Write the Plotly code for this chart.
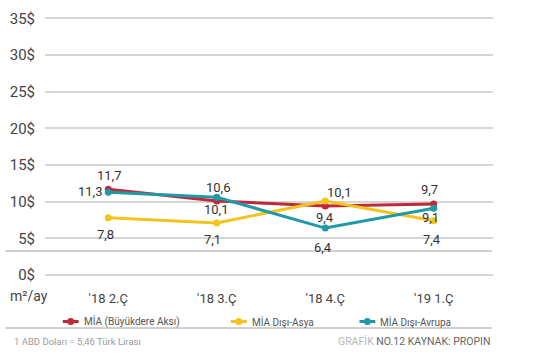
import plotly.graph_objects as go

categories = ["'18 2.Ç", "'18 3.Ç", "'18 4.Ç", "'19 1.Ç"]
buyukdere = [11.7, 10.1, 9.4, 9.7]
asya = [7.8, 7.1, 10.1, 7.4]
avrupa = [11.3, 10.6, 6.4, 9.1]
y_ticks = [0, 5, 10, 15, 20, 25, 30, 35]

# label offsets in pixels (dx right, dy down) relative to each point
series = [
    ("MİA (Büyükdere Aksı)", buyukdere, "#c0283a",
     [(1, -14), (-1, 9), (0, 11), (-4, -14)], 66),
    ("MİA Dışı-Asya", asya, "#f2c41c",
     [(-3, 17), (-4, 17), (14, -8), (-2, 19)], 236),
    ("MİA Dışı-Avrupa", avrupa, "#1f9aa6",
     [(-18, -1), (1, -10), (-2, 19), (-3, 9)], 366),
]

FONT = "Roboto, Arial, sans-serif"
xs = list(range(len(categories)))

W, H = 555, 355
L, R, T, B = 40, 493, 10, 280
pw, ph = R - L, B - T
def px(x):
    return (x - L) / pw
def py(y):
    return (B - y) / ph

fig = go.Figure()
shapes = [
    dict(type="line", xref="paper", yref="paper", x0=px(0), x1=px(492),
         y0=py(251), y1=py(251), line=dict(color="#d0d0d0", width=2)),
    dict(type="line", xref="paper", yref="paper", x0=px(0), x1=px(492),
         y0=py(328), y1=py(328), line=dict(color="#d0d0d0", width=2)),
]
annotations = []
LEG_Y = 321.5
for name, vals, col, offs, lx in series:
    fig.add_trace(go.Scatter(
        x=xs, y=vals, name=name, mode="lines+markers",
        line=dict(color=col, width=3),
        marker=dict(color=col, size=7),
        showlegend=False, cliponaxis=False,
    ))
    for xi, v, (dx, dy) in zip(xs, vals, offs):
        annotations.append(dict(text=f"{v:.1f}".replace(".", ","),
                                xref="x", yref="y", x=xi, y=v,
                                xshift=dx, yshift=-dy, showarrow=False,
                                xanchor="center", yanchor="middle",
                                font=dict(family=FONT, size=13, color="#333")))
    shapes.append(dict(type="line", xref="paper", yref="paper",
                       x0=px(lx - 8), x1=px(lx + 8), y0=py(LEG_Y), y1=py(LEG_Y),
                       line=dict(color=col, width=3)))
    shapes.append(dict(type="circle", xref="paper", yref="paper",
                       xsizemode="pixel", ysizemode="pixel",
                       xanchor=px(lx), yanchor=py(LEG_Y),
                       x0=-3.5, x1=3.5, y0=-3.5, y1=3.5,
                       fillcolor=col, line=dict(width=0)))
    annotations.append(dict(text=name, xref="paper", yref="paper",
                            x=px(lx + 11), y=py(LEG_Y), xanchor="left",
                            yanchor="middle", showarrow=False,
                            font=dict(family=FONT, size=10, color="#555")))

annotations += [
    dict(text="m²/ay", xref="paper", yref="paper", x=px(3), y=py(296),
         xanchor="left", yanchor="middle", showarrow=False,
         font=dict(family=FONT, size=14, color="#444")),
    dict(text="1 ABD Doları = 5,46 Türk Lirası", xref="paper", yref="paper",
         x=px(7), y=py(341), xanchor="left", yanchor="middle", showarrow=False,
         font=dict(family=FONT, size=9.5, color="#9a9a9a")),
    dict(text="<span style='color:#b8b8b8'>GRAFİK</span> NO.12 KAYNAK: PROPIN",
         xref="paper", yref="paper", x=px(492), y=py(341), xanchor="right",
         yanchor="middle", showarrow=False,
         font=dict(family=FONT, size=10.5, color="#666")),
]

fig.update_layout(
    width=W, height=H,
    margin=dict(l=L, r=W - R, t=T, b=H - B),
    plot_bgcolor="white", paper_bgcolor="white",
    font=dict(family=FONT, color="#444"),
    showlegend=False,
    xaxis=dict(range=[-0.583, 3.546], tickvals=xs, ticktext=categories,
               showgrid=False, zeroline=False, showline=False, ticks="",
               tickfont=dict(family=FONT, size=13, color="#444"),
               ticklabelstandoff=9),
    yaxis=dict(range=[-0.68, 36.14], tickvals=y_ticks,
               ticktext=[f"{v}$" for v in y_ticks],
               showgrid=True, gridcolor="#d6d6d6", gridwidth=1.5,
               zeroline=False, showline=False, ticks="",
               tickfont=dict(family=FONT, size=15, color="#444"),
               ticklabelstandoff=9),
    shapes=shapes,
    annotations=annotations,
)

fig.write_html("out.html", config={"displayModeBar": False},
               post_script="document.body.style.margin='0';")
